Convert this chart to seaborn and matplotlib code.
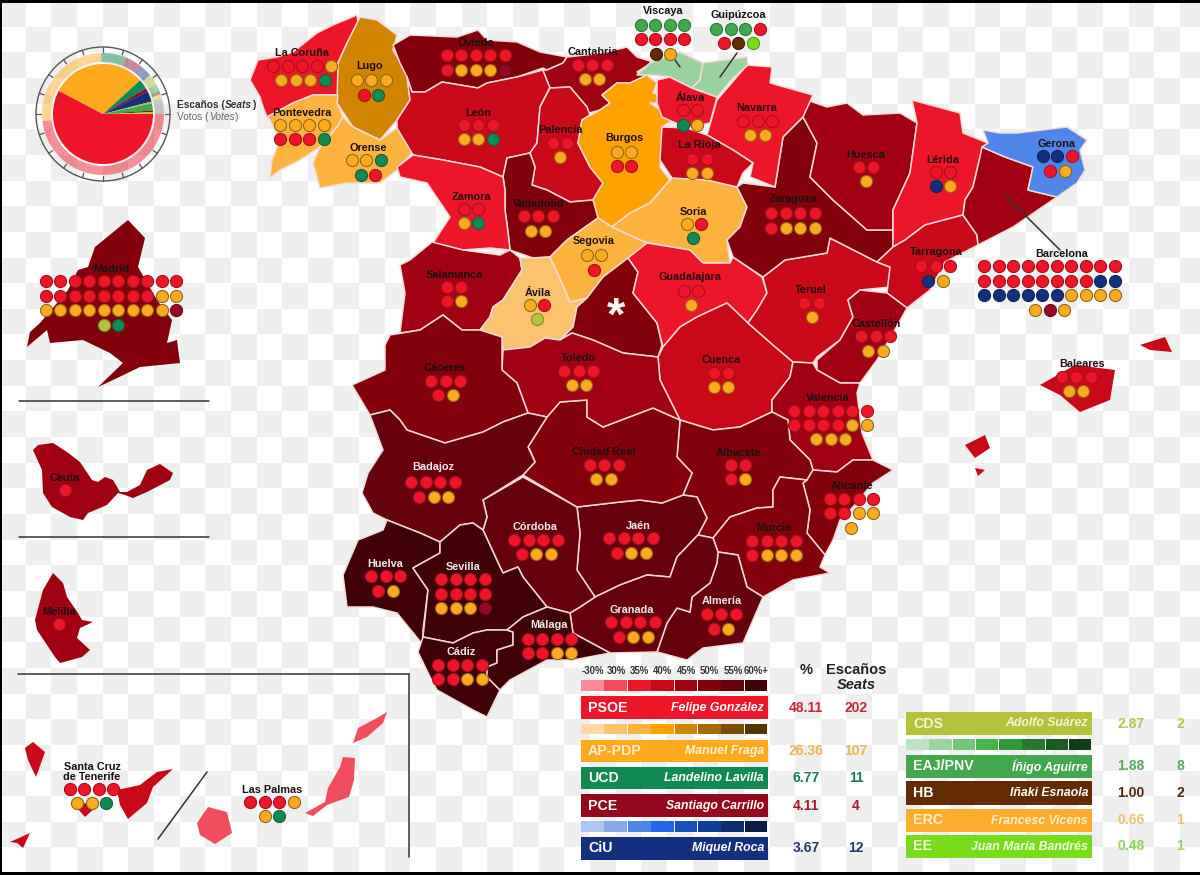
import numpy as np
import pandas as pd
import matplotlib
matplotlib.use("Agg")
import matplotlib.pyplot as plt
from matplotlib.patches import Polygon, Rectangle, Circle
import seaborn as sns

# ---------- results ----------
parties = ["PSOE", "AP-PDP", "UCD", "PCE", "CiU", "CDS", "EAJ/PNV", "HB", "ERC", "EE"]
leaders = ["Felipe González", "Manuel Fraga", "Landelino Lavilla", "Santiago Carrillo", "Miquel Roca",
           "Adolfo Suárez", "Íñigo Aguirre", "Iñaki Esnaola", "Francesc Vicens", "Juan María Bandrés"]
vote_pct = [48.11, 26.36, 6.77, 4.11, 3.67, 2.87, 1.88, 1.00, 0.66, 0.48]
seat_total = [202, 107, 11, 4, 12, 2, 8, 2, 1, 1]
other_pct = [4.09]
party_codes = ["P", "A", "U", "C", "L", "D", "E", "H", "R", "B"]
party_colors = ["#ee1529", "#ffa91f", "#108a53", "#94091f", "#13307f", "#b5c23c", "#41a84e", "#632b00", "#fdad2d", "#77dd1a"]
dot_edges = ["#a80f1e", "#8a6a10", "#1d5c3a", "#6e0a20", "#102458", "#7f8a2a", "#2b7a38", "#3d1c00", "#8a6a10", "#4f9912"]
value_colors = ["#c8283c", "#f0b550", "#1b7a55", "#a51a33", "#24386f", "#b3c454", "#55a860", "#4a2a10", "#f0c070", "#8fd65a"]
ramp_labels = ["-30%", "30%", "35%", "40%", "45%", "50%", "55%", "60%+"]
red_ramp = ["#f98a9a", "#f24d5d", "#ed1528", "#c90818", "#a10010", "#820009", "#66000b", "#3f0006"]
orange_ramp = ["#fdd9a5", "#fcc36f", "#fdb33e", "#ffa200", "#d18400", "#a86a00", "#7a4d00", "#523400"]
blue_ramp = ["#aec6f2", "#86a9ec", "#4f86ea", "#2366e8", "#1552c0", "#0f3f9a", "#0c2d70", "#0a1c45"]
green_ramp = ["#bfe2c6", "#9bd3a0", "#74c67a", "#46b549", "#33993c", "#267a30", "#1a5c24", "#0f3d16"]

# province: seats per row (letters = party_codes)
province_seats = {
    "La Coruña": ["PPPPA", "AAAU"], "Lugo": ["AAA", "PU"], "Pontevedra": ["AAAA", "PPPU"], "Orense": ["AAU", "UP"],
    "Oviedo": ["PPPPP", "PAAAC"], "Cantabria": ["PPP", "AA"], "León": ["PPP", "AAU"], "Palencia": ["PP", "A"],
    "Burgos": ["AA", "PP"], "Zamora": ["PP", "AU"], "Valladolid": ["PPP", "AA"], "Segovia": ["AA", "P"],
    "Soria": ["AP", "U"], "Salamanca": ["PP", "PA"], "Ávila": ["AP", "D"], "Toledo": ["PPP", "AA"],
    "Cáceres": ["PPP", "PA"], "Guadalajara": ["PP", "A"], "Teruel": ["PP", "A"], "Cuenca": ["PP", "AA"],
    "Castellón": ["PPP", "AA"], "Tarragona": ["PPP", "LA"], "Valencia": ["PPPPPP", "PPPPAA", "AAA"],
    "Albacete": ["PP", "PA"], "Alicante": ["PPPP", "PPAA", "A"], "Murcia": ["PPPP", "PAAA"],
    "Almería": ["PPP", "PA"], "Granada": ["PPPP", "PAA"], "Jaén": ["PPPP", "PAA"], "Córdoba": ["PPPP", "PAA"],
    "Ciudad Real": ["PPP", "AA"], "Badajoz": ["PPPP", "PAA"], "Huelva": ["PPP", "PA"],
    "Sevilla": ["PPPP", "PPPP", "AAAC"], "Málaga": ["PPPP", "PPAA"], "Cádiz": ["PPPP", "PPAA"],
    "Navarra": ["PPP", "AA"], "Álava": ["PP", "UA"], "La Rioja": ["PP", "AA"], "Huesca": ["PP", "A"],
    "Zaragoza": ["PPPP", "PAAA"], "Lérida": ["PP", "LA"], "Gerona": ["LLP", "PA"],
    "Barcelona": ["PPPPPPPPPP", "PPPPPPPPLL", "LLLLLLAAAA", "ACA"],
    "Viscaya": ["EEEE", "PPPP", "HA"], "Guipúzcoa": ["EEEP", "PHB"],
    "Madrid": ["PPPPPPPPPP", "PPPPPPPPAA", "AAAAAAAAAC", "DU"],
    "Ceuta": ["P"], "Melilla": ["P"], "Santa Cruz\nde Tenerife": ["PPPP", "AAU"], "Las Palmas": ["PPPA", "AU"],
    "Baleares": ["PPP", "AA"],
}
province_shade = {
    "La Coruña": ("P", 2), "Lugo": ("A", 4), "Pontevedra": ("A", 2), "Orense": ("A", 2), "Oviedo": ("P", 5),
    "Cantabria": ("P", 4), "León": ("P", 3), "Palencia": ("P", 3), "Burgos": ("A", 3), "Zamora": ("P", 2),
    "Valladolid": ("P", 5), "Segovia": ("A", 2), "Soria": ("A", 2), "Salamanca": ("P", 4), "Ávila": ("A", 1),
    "MadridMain": ("P", 5), "Madrid": ("P", 5), "Toledo": ("P", 4), "Cáceres": ("P", 5), "Guadalajara": ("P", 2),
    "Teruel": ("P", 3), "Cuenca": ("P", 3), "Castellón": ("P", 4), "Tarragona": ("P", 3), "Valencia": ("P", 4),
    "Albacete": ("P", 5), "Alicante": ("P", 5), "Murcia": ("P", 5), "Almería": ("P", 6), "Granada": ("P", 6),
    "Jaén": ("P", 6), "Córdoba": ("P", 6), "Ciudad Real": ("P", 5), "Badajoz": ("P", 6), "Huelva": ("P", 7),
    "Sevilla": ("P", 7), "Málaga": ("P", 7), "Cádiz": ("P", 7), "Navarra": ("P", 2), "Álava": ("P", 2),
    "La Rioja": ("P", 3), "Huesca": ("P", 4), "Zaragoza": ("P", 5), "Lérida": ("P", 2), "Gerona": ("L", 2),
    "Barcelona": ("P", 4), "Viscaya": ("E", 1), "Guipúzcoa": ("E", 1), "Ceuta": ("P", 4), "Melilla": ("P", 4),
    "Santa Cruz\nde Tenerife": ("P", 3), "Las Palmas": ("P", 1), "Baleares": ("P", 3),
}

# ---------- layout of the labels and seat rows: label x, label y, row centre x, row y ----------
row_layout = {
    "La Coruña": (302, 53, [(302, 66), (303, 80)]), "Lugo": (370, 66, [(371, 80), (371, 95)]),
    "Pontevedra": (302, 113, [(302, 125), (302, 139)]), "Orense": (368, 148, [(366, 160), (368, 175)]),
    "Oviedo": (476, 43, [(475.5, 55), (475.5, 70)]), "Cantabria": (593, 52, [(592, 65), (592, 79)]),
    "León": (478, 113, [(478, 125), (478, 139)]), "Palencia": (560, 130, [(560, 143), (560, 157)]),
    "Burgos": (624, 138, [(624, 152), (624, 166)]), "Zamora": (471, 197, [(471, 209), (471, 223)]),
    "Valladolid": (539, 204, [(538, 216), (538, 231)]), "Segovia": (594, 241, [(594, 255), (594, 270)]),
    "Soria": (693, 212, [(694, 224), (693, 238)]), "Salamanca": (454, 275, [(454, 287), (454, 301)]),
    "Ávila": (538, 293, [(537, 305), (537, 319)]), "Toledo": (578, 358, [(578.5, 371), (579, 385)]),
    "Cáceres": (445, 368, [(445.5, 381), (445.5, 395)]), "Guadalajara": (690, 277, [(691, 291), (691, 305)]),
    "Teruel": (811, 290, [(811.5, 303), (812, 317)]), "Cuenca": (721, 360, [(721, 373), (721, 387)]),
    "Castellón": (876, 324, [(875.5, 336), (875.5, 351)]), "Tarragona": (936, 252, [(935.5, 266), (935.5, 281)]),
    "Valencia": (828, 398, [(830.5, 411), (830.5, 425), (830.5, 439)]), "Albacete": (738, 453, [(738, 465), (738, 479)]),
    "Alicante": (852, 486, [(851.5, 499), (851.5, 513), (851, 528)]), "Murcia": (774, 528, [(774, 541), (774, 555)]),
    "Almería": (722, 601, [(721, 614), (721, 629)]), "Granada": (632, 610, [(633, 622), (633, 637)]),
    "Jaén": (638, 526, [(631, 538), (631, 553)]), "Córdoba": (535, 527, [(536, 540), (536, 554)]),
    "Ciudad Real": (604, 452, [(604, 465), (603.5, 479)]), "Badajoz": (433, 467, [(433, 482), (433.5, 497)]),
    "Huelva": (385, 564, [(385.5, 576), (385.5, 591)]), "Sevilla": (463, 567, [(463, 579), (463, 594), (463, 608)]),
    "Málaga": (549, 625, [(549.5, 639), (549.5, 653)]), "Cádiz": (461, 652, [(460, 665), (460, 679)]),
    "Navarra": (757, 108, [(757.5, 121), (757.5, 135)]), "Álava": (690, 98, [(690, 110), (690, 125)]),
    "La Rioja": (699, 145, [(699.5, 159), (699.5, 173)]), "Huesca": (866, 155, [(866, 167), (866, 181)]),
    "Zaragoza": (793, 199, [(793, 213), (793, 228)]), "Lérida": (943, 160, [(943, 172), (943, 186)]),
    "Gerona": (1057, 144, [(1057, 156), (1057.5, 171)]),
    "Barcelona": (1062, 254, [(1049.5, 266), (1049.5, 281), (1049.5, 295), (1049.5, 310)]),
    "Viscaya": (663, 11, [(662.5, 25), (662.5, 39), (663, 54)]), "Guipúzcoa": (738, 15, [(738, 29), (738, 43)]),
    "Madrid": (111, 269, [(111, 281), (111, 296), (111, 310), (111, 325)]),
    "Ceuta": (65, 478, [(65, 490)]), "Melilla": (59, 612, [(59, 624)]),
    "Santa Cruz\nde Tenerife": (92, 772, [(91.5, 789), (91.5, 803)]), "Las Palmas": (272, 790, [(272, 802), (272, 816)]),
    "Baleares": (1082, 364, [(1076, 377), (1076, 391)]),
}
white_labels = ["Badajoz", "Córdoba", "Jaén", "Huelva", "Sevilla", "Cádiz", "Málaga", "Granada", "Almería"]

# ---------- outlines ----------
shapes = {
    "La Coruña": [[(250,80),(258,60),(277,57),(293,52),(317,33),(333,25),(357,15),(358,23),(347,43),(338,63),(338,95),(313,95),(293,103),(267,117),(263,107),(260,97)]],
    "Lugo": [[(360,17),(377,20),(397,35),(393,50),(407,73),(410,100),(397,120),(380,140),(353,127),(337,103),(338,63),(347,43)]],
    "Pontevedra": [[(267,117),(293,103),(313,95),(338,95),(337,103),(343,117),(337,127),(320,147),(300,160),(280,170),(270,178),(272,160),(280,140),(270,120)]],
    "Orense": [[(343,117),(353,127),(380,140),(397,128),(417,147),(397,170),(380,183),(347,183),(320,188),(313,163),(320,147),(337,127)]],
    "Oviedo": [[(393,45),(410,35),(457,37),(478,30),(487,40),(517,42),(540,52),(567,57),(563,63),(547,70),(543,68),(517,77),(487,83),(478,88),(442,82),(425,92),(412,92),(407,77),(400,63),(395,50)]],
    "León": [[(412,92),(425,92),(442,82),(478,88),(487,83),(517,77),(543,70),(550,87),(540,107),(537,143),(530,153),(507,158),(503,177),(480,167),(443,160),(413,155),(397,128),(397,120),(410,100),(407,77)]],
    "Cantabria": [[(567,57),(603,53),(627,47),(637,57),(653,62),(637,72),(647,75),(630,83),(617,83),(602,95),(610,103),(600,110),(582,115),(587,107),(570,87),(550,88),(543,70),(547,70),(563,63)]],
    "Palencia": [[(550,88),(570,87),(587,107),(590,115),(582,120),(578,143),(590,167),(603,183),(593,200),(570,202),(547,190),(532,185),(535,167),(530,153),(537,143),(540,107)]],
    "Burgos": [[(647,75),(657,83),(653,93),(667,95),(660,103),(650,103),(660,110),(673,120),(662,127),(660,167),(670,180),(650,203),(630,213),(612,227),(598,218),(593,200),(603,183),(590,167),(578,143),(582,120),(600,110),(610,103),(602,95),(617,83),(630,83)]],
    "Valladolid": [[(507,158),(530,153),(535,167),(532,185),(547,190),(570,202),(593,200),(598,218),(567,240),(550,257),(533,258),(510,250),(508,232),(505,210),(505,190),(503,177)]],
    "Zamora": [[(413,155),(443,160),(480,167),(503,177),(505,190),(505,210),(508,232),(510,250),(490,248),(463,250),(433,243),(450,217),(427,183),(400,177),(397,167)]],
    "Salamanca": [[(432,242),(463,250),(500,255),(510,250),(520,258),(522,270),(503,300),(493,307),(490,317),(480,330),(462,330),(443,315),(420,330),(400,333),(405,293),(400,265),(410,260)]],
    "Ávila": [[(520,258),(533,258),(550,257),(562,283),(570,302),(587,298),(577,307),(573,327),(560,340),(545,338),(530,347),(503,350),(502,337),(480,330),(490,317),(493,307),(503,300),(522,270)]],
    "Segovia": [[(567,240),(598,218),(612,227),(647,243),(628,258),(603,277),(587,298),(570,302),(562,283),(550,257)]],
    "Soria": [[(650,243),(690,250),(703,263),(730,263),(727,240),(740,227),(747,207),(737,187),(707,180),(672,178),(670,180),(650,203),(630,213),(612,227),(647,243)]],
    "MadridMain": [[(628,258),(638,272),(633,293),(657,323),(662,345),(658,357),(623,353),(593,340),(572,333),(560,340),(573,327),(577,307),(587,298),(603,277)]],
    "Guadalajara": [[(647,243),(690,250),(703,263),(730,263),(733,257),(762,277),(767,293),(757,310),(748,323),(727,303),(697,317),(680,327),(663,347),(657,323),(633,293),(638,272),(628,258)]],
    "Cuenca": [[(663,347),(680,327),(697,317),(727,303),(748,323),(773,345),(793,362),(790,377),(772,400),(772,412),(740,427),(713,430),(680,420),(660,380),(658,357)]],
    "Teruel": [[(763,277),(785,260),(827,253),(830,238),(877,262),(890,267),(890,287),(860,290),(848,300),(853,317),(840,340),(817,357),(813,363),(793,362),(773,345),(748,323),(757,310),(767,293)]],
    "Zaragoza": [[(743,183),(775,187),(783,137),(803,117),(817,143),(810,177),(833,200),(867,230),(893,230),(893,247),(877,262),(830,238),(827,253),(785,260),(763,277),(733,257),(727,240),(740,227),(747,207),(737,187)]],
    "Huesca": [[(807,100),(827,107),(847,103),(863,115),(900,113),(917,123),(910,173),(893,210),(893,230),(867,230),(833,200),(810,177),(817,143),(803,117)]],
    "Lérida": [[(912,100),(960,113),(963,133),(988,143),(980,157),(973,187),(965,200),(963,215),(925,225),(905,240),(893,247),(893,230),(893,210),(910,173),(917,123)]],
    "Tarragona": [[(893,247),(905,240),(925,225),(963,215),(977,235),(978,245),(945,262),(930,290),(907,308),(887,293),(890,267),(877,262)]],
    "Barcelona": [[(982,147),(1005,157),(1033,167),(1028,190),(1057,197),(1013,227),(978,245),(977,235),(963,215),(965,200),(973,187),(980,157)]],
    "Gerona": [[(983,130),(1000,133),(1017,133),(1067,127),(1087,140),(1080,150),(1085,170),(1077,183),(1057,197),(1028,190),(1033,167),(1005,157),(982,147),(988,143)]],
    "Castellón": [[(860,290),(887,293),(907,308),(893,333),(877,360),(860,383),(840,383),(817,370),(817,360),(840,340),(853,317),(848,300)]],
    "Valencia": [[(793,362),(813,363),(817,370),(840,383),(860,383),(857,393),(862,433),(873,460),(853,460),(837,472),(813,470),(810,460),(790,440),(788,420),(772,412),(772,400),(790,377)]],
    "Albacete": [[(713,430),(740,427),(772,412),(788,420),(790,440),(810,460),(813,470),(807,480),(780,477),(773,490),(773,507),(757,508),(730,517),(713,538),(698,535),(707,518),(697,497),(683,495),(692,473),(677,457),(680,420)]],
    "Alicante": [[(813,470),(837,472),(853,460),(873,460),(893,470),(873,483),(853,507),(840,520),(833,540),(825,555),(807,533),(810,510),(803,483),(807,480)]],
    "Murcia": [[(780,477),(807,480),(803,483),(810,510),(807,533),(825,555),(820,567),(830,573),(793,580),(763,597),(747,587),(738,555),(718,552),(713,538),(730,517),(757,508),(773,507),(773,490)]],
    "Almería": [[(718,552),(738,555),(747,587),(763,597),(750,627),(743,643),(703,648),(687,660),(657,652),(667,623),(677,608),(690,612),(692,597),(710,583),(717,563)]],
    "Jaén": [[(577,507),(620,502),(640,500),(662,503),(683,495),(697,497),(707,518),(698,535),(677,557),(670,577),(647,575),(620,585),(595,597),(577,570),(580,533)]],
    "Granada": [[(595,597),(620,585),(647,575),(670,577),(677,557),(698,535),(713,538),(718,552),(717,563),(710,583),(692,597),(690,612),(677,608),(667,623),(657,652),(610,653),(573,633),(570,613),(580,607)]],
    "Córdoba": [[(483,500),(523,477),(577,507),(580,533),(577,570),(595,597),(580,607),(570,613),(547,607),(523,577),(518,567),(503,573),(500,567),(483,530),(487,517)]],
    "Ciudad Real": [[(523,475),(535,462),(530,450),(528,447),(547,417),(560,402),(587,400),(587,417),(603,427),(653,408),(680,420),(677,457),(692,473),(683,495),(662,503),(640,500),(620,502),(577,507)]],
    "Toledo": [[(503,350),(530,347),(545,338),(560,340),(572,333),(593,340),(623,353),(658,357),(660,380),(680,420),(653,408),(603,427),(587,417),(587,400),(560,402),(547,417),(528,413),(517,383),(502,370)]],
    "Cáceres": [[(390,335),(420,330),(443,315),(462,330),(480,330),(502,337),(502,370),(517,383),(528,413),(517,417),(503,422),(483,432),(445,443),(407,430),(400,420),(390,410),(370,415),(352,385),(385,370),(385,345)]],
    "Badajoz": [[(370,415),(390,410),(400,420),(407,430),(445,443),(483,432),(503,422),(517,417),(528,413),(547,417),(528,447),(535,462),(523,475),(483,500),(487,517),(483,530),(473,523),(460,525),(440,542),(420,533),(387,520),(373,513),(362,493),(368,473),(383,450)]],
    "Huelva": [[(387,520),(420,533),(440,542),(440,553),(413,568),(428,590),(423,630),(423,645),(397,613),(373,607),(347,607),(343,575),(358,540),(383,530)]],
    "Sevilla": [[(413,568),(440,553),(440,542),(460,525),(473,523),(483,530),(500,567),(503,573),(518,567),(523,577),(547,607),(523,617),(507,630),(487,630),(473,633),(453,643),(423,637),(428,590)]],
    "Cádiz": [[(423,637),(453,643),(473,633),(487,630),(507,630),(513,632),(513,645),(497,650),(497,663),(487,667),(487,677),(500,690),(487,717),(473,710),(437,690),(430,677),(418,652)]],
    "Málaga": [[(523,617),(547,607),(570,613),(573,633),(610,653),(573,660),(547,660),(510,680),(500,690),(487,677),(487,667),(497,663),(497,650),(513,645),(513,632),(507,630)]],
    "Navarra": [[(747,65),(772,67),(770,83),(813,95),(803,117),(783,137),(775,187),(750,177),(753,163),(733,150),(707,135),(717,100)]],
    "Álava": [[(657,80),(670,77),(692,88),(717,97),(710,123),(687,128),(662,117),(657,103)]],
    "La Rioja": [[(662,127),(687,128),(707,135),(733,150),(753,163),(743,173),(737,187),(707,180),(672,178),(660,160)]],
    "Viscaya": [[(637,75),(650,63),(680,52),(703,63),(700,80),(692,88),(670,77),(650,75)]],
    "Guipúzcoa": [[(703,63),(747,57),(748,65),(733,78),(717,97),(692,88),(700,80)]],
    "Baleares": [[(1040,385),(1075,365),(1115,370),(1110,400),(1080,412),(1060,395)],
                 [(1140,345),(1165,337),(1172,352),(1150,350)],
                 [(965,445),(985,435),(990,448),(975,458)],
                 [(975,468),(985,470),(978,476)]],
    "Madrid": [[(128,220),(145,238),(138,267),(157,300),(172,320),(167,343),(177,340),(180,363),(140,367),(113,380),(98,387),(123,363),(110,353),(83,340),(50,343),(47,330),(27,347),(30,332),(40,323),(68,290),(78,270),(88,267),(95,247)]],
    "Ceuta": [[(33,450),(38,445),(53,443),(67,452),(80,462),(92,480),(98,482),(105,477),(113,480),(120,492),(127,492),(140,485),(147,470),(160,464),(173,473),(170,480),(147,492),(133,498),(125,495),(118,493),(107,505),(88,513),(83,520),(70,517),(52,507),(43,493),(42,470)]],
    "Melilla": [[(53,573),(63,583),(67,597),(78,613),(82,620),(93,622),(80,628),(77,638),(90,650),(82,657),(60,663),(55,657),(37,630),(35,620),(43,590)]],
    "Santa Cruz\nde Tenerife": [[(25,748),(33,742),(45,752),(36,777),(28,760)],
                                [(10,842),(30,833),(23,848),(17,843)],
                                [(117,790),(140,785),(157,772),(173,769),(153,787),(147,803),(128,819),(120,805)],
                                [(77,808),(85,803),(95,808),(85,817)]],
    "Las Palmas": [[(208,807),(227,812),(232,833),(215,844),(200,835),(197,823)],
                   [(343,757),(355,758),(354,780),(349,797),(327,805),(313,816),(305,813),(325,802),(328,788),(340,767)],
                   [(353,743),(358,728),(377,718),(387,712),(383,723),(367,737)]],
}
leader_lines = [((1003,193),(1060,250)), ((675,60),(680,67)), ((737,53),(720,77)),
                ((19,401),(209,401)), ((19,537),(209,537)), ((18,674),(409,674)), ((409,674),(409,857)), ((158,839),(207,772))]

# ---------- figure ----------
sns.set_theme(style="white")
plt.rcParams["font.family"] = ["Liberation Sans", "DejaVu Sans"]
fig = plt.figure(figsize=(12, 8.75), dpi=100)
ax = fig.add_axes([0, 0, 1, 1])

cell = 25.65
ny, nx = int(875 / cell) + 2, int(1200 / cell) + 2
yy, xx = np.mgrid[0:ny, 0:nx]
ax.pcolormesh(np.arange(nx + 1) * cell, np.arange(ny + 1) * cell + 1, ((xx + yy) % 2 == 0).astype(float),
              cmap=matplotlib.colors.ListedColormap(["#ffffff", "#efefef"]), vmin=0, vmax=1, zorder=0)

ramps = {"P": red_ramp, "A": orange_ramp, "L": blue_ramp, "E": green_ramp}
no_border = ("Madrid", "Ceuta", "Melilla", "Baleares", "Santa Cruz\nde Tenerife", "Las Palmas")
for name, polys in shapes.items():
    ramp, step = province_shade[name]
    fc = ramps[ramp][step]
    for pts in polys:
        lw = 0 if name in no_border else 1.1
        ax.add_patch(Polygon(pts, closed=True, facecolor=fc, edgecolor="#f6dada" if lw else fc, linewidth=lw, zorder=2, joinstyle="round"))

for a, b in leader_lines:
    ax.plot([a[0], b[0]], [a[1], b[1]], color="#333333", lw=1.1, zorder=3)

# seats
step_px = 14.5
rows = []
for name, seat_rows in province_seats.items():
    lx, ly, anchors = row_layout[name]
    for letters, (cx, y) in zip(seat_rows, anchors):
        x0 = cx - step_px * (len(letters) - 1) / 2
        for i, code in enumerate(letters):
            rows.append({"x": x0 + i * step_px, "y": y, "party": code})
seats_df = pd.DataFrame(rows)
for code, col, edge in zip(party_codes, party_colors, dot_edges):
    sub = seats_df[seats_df["party"] == code]
    if len(sub):
        sns.scatterplot(data=sub, x="x", y="y", color=col, s=76, edgecolor=edge, linewidth=0.8, ax=ax, zorder=5, legend=False)

for name, (lx, ly, _) in row_layout.items():
    col = "#f2eaea" if name in white_labels else "#1c1010"
    ax.text(lx, ly, name, ha="center", va="center", fontsize=7.8, fontweight="bold", color=col, zorder=6, linespacing=0.95)
ax.text(616, 318, "*", ha="center", va="center", fontsize=34, fontweight="bold", color="white", zorder=6)

# pie: seats inside, votes ring
pcx, pcy = 103, 114
ax.pie(seat_total, colors=party_colors, radius=50, center=(pcx, pcy), startangle=0, counterclock=True,
       frame=True, wedgeprops={"linewidth": 0, "zorder": 4})
ring_vals = vote_pct + other_pct
ring_cols = [matplotlib.colors.to_rgba(c, 0.48) for c in party_colors] + [(0.65, 0.65, 0.65, 0.6)]
ax.pie(ring_vals, colors=ring_cols, radius=61, center=(pcx, pcy), startangle=0, counterclock=True, frame=True,
       wedgeprops={"width": 9, "linewidth": 0, "zorder": 4})
ax.add_patch(Circle((pcx, pcy), 67, fill=False, edgecolor="#555555", lw=1, zorder=4))
for deg in np.arange(0, 360, 18):
    c, s = np.cos(np.radians(deg)), np.sin(np.radians(deg))
    ax.plot([pcx + 62 * c, pcx + 67 * c], [pcy + 62 * s, pcy + 67 * s], color="#555555", lw=0.9, zorder=4)

# legend
def ramp_row(x0, x1, y0, y1, cols, labels=None):
    w = (x1 - x0) / len(cols)
    for i, c in enumerate(cols):
        ax.add_patch(Rectangle((x0 + i * w, y0), w - 0.6, y1 - y0, facecolor=c, edgecolor="none", zorder=5))
        if labels:
            ax.text(x0 + (i + 0.5) * w, 671, labels[i], ha="center", va="center", fontsize=6.9, fontweight="bold", color="#333333", zorder=6)

ramp_row(581, 768, 680, 691, red_ramp, ramp_labels)
ramp_row(581, 768, 724, 734, orange_ramp)
ramp_row(581, 768, 821, 832, blue_ramp)
ramp_row(906, 1092, 739, 750, green_ramp)

bar_rows = [(581, 768, 696, 719), (581, 768, 740, 762), (581, 768, 767, 789), (581, 768, 794, 817), (581, 768, 837, 860),
            (906, 1092, 712, 735), (906, 1092, 755, 778), (906, 1092, 781, 805), (906, 1092, 809, 832), (906, 1092, 835, 858)]
text_cols = ["#ffffff", "#fff0cc"] + ["#ffffff"] * 3 + ["#f4f6d8"] + ["#ffffff"] * 2 + ["#ffeecc", "#f0ffe0"]
for i, (x0, x1, y0, y1) in enumerate(bar_rows):
    ym = (y0 + y1) / 2
    ax.add_patch(Rectangle((x0, y0), x1 - x0, y1 - y0, facecolor=party_colors[i], edgecolor="none", zorder=5))
    ax.text(x0 + 7, ym, parties[i], ha="left", va="center", fontsize=10.2, fontweight="bold", color=text_cols[i], zorder=6)
    ax.text(x1 - 4, ym, leaders[i], ha="right", va="center", fontsize=8.8, fontweight="bold", fontstyle="italic", color=text_cols[i], zorder=6)
    px, sx = (806, 856) if x0 < 800 else (1131, 1180)
    ax.text(px, ym, f"{vote_pct[i]:.2f}", ha="center", va="center", fontsize=10, fontweight="bold", color=value_colors[i], zorder=6)
    ax.text(sx, ym, str(seat_total[i]), ha="center", va="center", fontsize=10, fontweight="bold", color=value_colors[i], zorder=6)
ax.text(806, 670, "%", ha="center", va="center", fontsize=10.5, fontweight="bold", color="#222222", zorder=6)
ax.text(856, 670, "Escaños", ha="center", va="center", fontsize=10.5, fontweight="bold", color="#222222", zorder=6)
ax.text(856, 685, "Seats", ha="center", va="center", fontsize=10.5, fontweight="bold", fontstyle="italic", color="#222222", zorder=6)

# frame
for r in [(0, 0, 1200, 3), (0, 872, 1200, 3), (0, 0, 1.5, 875)]:
    ax.add_patch(Rectangle((r[0], r[1]), r[2], r[3], facecolor="black", edgecolor="none", zorder=8))

ax.set_xlim(0, 1200)
ax.set_ylim(875, 0)
ax.set_aspect("auto")
ax.set_xlabel("")
ax.set_ylabel("")
ax.axis("off")

# pie captions: pieces set one after another
renderer = fig.canvas.get_renderer()
def chain(x, y, pieces, **kw):
    for s, style in pieces:
        t = ax.text(x, y, s, ha="left", va="center", fontstyle=style, zorder=6, **kw)
        x = t.get_window_extent(renderer).x1 + 0.6
chain(177, 105, [("Escaños (", "normal"), ("Seats", "italic"), (")", "normal")], fontsize=7.3, fontweight="bold", color="#333333")
chain(177, 117, [("Votos (", "normal"), ("Votes", "italic"), (")", "normal")], fontsize=7.3, color="#666666")

fig.savefig("out.png", dpi=100)
